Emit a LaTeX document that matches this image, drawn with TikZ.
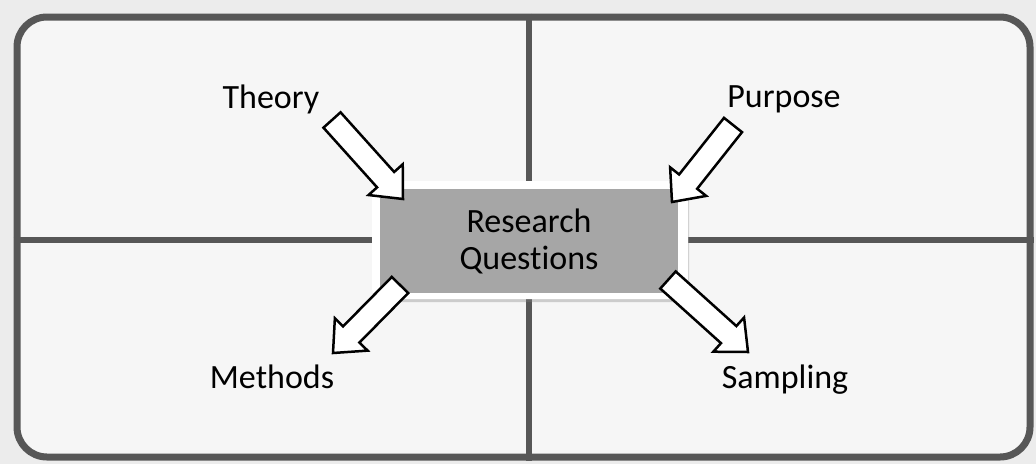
\documentclass[tikz,border=0pt]{standalone}
\usepackage{fontspec}
\setmainfont{Carlito}[Ligatures=NoCommon]
\usepackage{tikz}
\usetikzlibrary{positioning,calc,shadows}
\usepackage{xcolor}

\definecolor{pagegray}{HTML}{ECECEC}
\definecolor{panelgray}{HTML}{F6F6F6}
\definecolor{framegray}{HTML}{575757}
\definecolor{boxgray}{HTML}{A6A6A6}

\tikzset{
  term/.style={anchor=base, font=\fontsize{34}{37}\selectfont},
  divider/.style={draw=framegray, line width=6pt},
  blockarr/.style={draw=black, fill=white, line width=2.5pt, line join=miter}
}

\newcommand{\blockarrow}[2]{%
  \coordinate (#1-head) at ($(#2)!26pt!(#1)$);
  \draw[blockarr] ($(#1)!11.5pt!90:(#2)$) -- ($(#1-head)!11.5pt!90:(#2)$)
    -- ($(#1-head)!23pt!90:(#2)$) -- (#2) -- ($(#1-head)!23pt!-90:(#2)$)
    -- ($(#1-head)!11.5pt!-90:(#2)$) -- ($(#1)!11.5pt!-90:(#2)$) -- cycle;
}

\begin{document}
\begin{tikzpicture}[x=1pt, y=-1pt]
    \fill[pagegray] (0,0) rectangle (1036,464);
    \useasboundingbox (0,0) rectangle (1036,464);

    \node (panel) [draw=framegray, fill=panelgray, line width=7pt, rounded corners=30pt, minimum width=1013pt, minimum height=440pt, inner sep=0pt] at (523.5,237) {};

    \draw[divider] (panel.north -| 529,240) -- (panel.south -| 529,240);
    \draw[divider] (panel.west |- 529,240) -- (panel.east |- 529,240);

    \node (rqframe) [fill=white, rounded corners=10pt, minimum width=316pt, minimum height=118pt, inner sep=0pt, drop shadow={shadow xshift=1pt, shadow yshift=-3pt, opacity=0.35}] at (530,240) {};
    \node (rq) [fill=boxgray, minimum width=298pt, minimum height=104pt, inner sep=0pt, align=center, font=\fontsize{34}{37}\selectfont] at (529,241) {Research\\Questions};

    \node (theory) [term] at (271,108) {Theory};
    \node (purpose) [term] at (784,107) {Purpose};
    \node (methods) [term] at (272,388) {Methods};
    \node (sampling) [term] at (785,388) {Sampling};

    \coordinate (theory-tail) at (332,120);
    \coordinate (theory-tip) at (403,199);
    \coordinate (purpose-tail) at (733,125);
    \coordinate (purpose-tip) at (672,202);
    \coordinate (methods-tail) at (400,285);
    \coordinate (methods-tip) at (333,353);
    \coordinate (sampling-tail) at (668,280);
    \coordinate (sampling-tip) at (748,352);

    \blockarrow{theory-tail}{theory-tip}
    \blockarrow{purpose-tail}{purpose-tip}
    \blockarrow{methods-tail}{methods-tip}
    \blockarrow{sampling-tail}{sampling-tip}
\end{tikzpicture}
\end{document}
